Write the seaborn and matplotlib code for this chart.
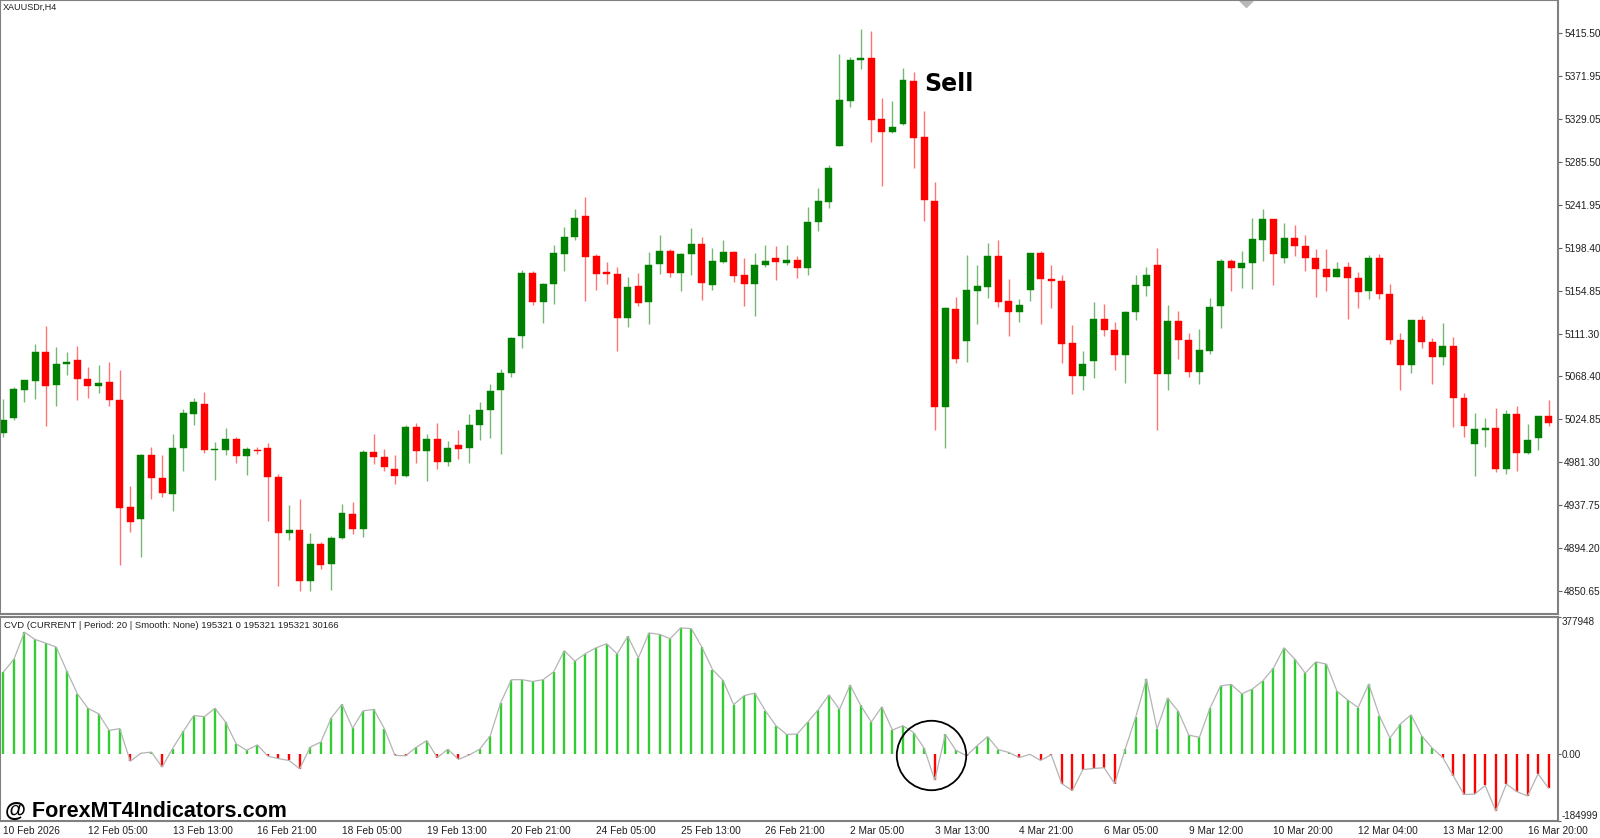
import matplotlib
matplotlib.use('Agg')
import matplotlib.pyplot as plt
import numpy as np
import pandas as pd
import seaborn as sns

# XAUUSD H4 candles
opens = [5011, 5026, 5054, 5063, 5093, 5059, 5081, 5085, 5065, 5058,
         5062, 5044, 4936, 4924, 4988, 4965, 4949, 4995, 5030, 5040,
         4993, 4993, 5005, 4987, 4993, 4995, 4966, 4909, 4912, 4861,
         4898, 4878, 4904, 4929, 4913, 4991, 4986, 4974, 4967, 5017,
         4992, 5005, 4981, 4998, 4995, 5019, 5034, 5054, 5071, 5109,
         5173, 5143, 5162, 5192, 5209, 5230, 5190, 5173, 5172, 5127,
         5160, 5143, 5182, 5195, 5173, 5192, 5202, 5161, 5184, 5194,
         5171, 5162, 5181, 5188, 5183, 5186, 5178, 5224, 5245, 5301,
         5347, 5388, 5390, 5329, 5315, 5324, 5367, 5310, 5246, 5037,
         5136, 5104, 5154, 5159, 5190, 5144, 5133, 5155, 5193, 5167,
         5165, 5102, 5068, 5084, 5126, 5115, 5090, 5133, 5160, 5181,
         5070, 5124, 5105, 5072, 5094, 5139, 5185, 5178, 5183, 5206,
         5227, 5188, 5208, 5200, 5188, 5177, 5169, 5179, 5168, 5154,
         5188, 5151, 5105, 5080, 5125, 5103, 5088, 5099, 5046, 4999,
         5014, 5016, 4974, 5030, 4990, 5006, 5028]
highs = [5045, 5057, 5064, 5101, 5119, 5098, 5093, 5099, 5077, 5080,
         5083, 5074, 4957, 4989, 4996, 4988, 5010, 5035, 5046, 5052,
         5002, 5016, 5007, 4996, 4996, 5000, 4969, 4938, 4944, 4909,
         4900, 4906, 4939, 4941, 4993, 5010, 4994, 4988, 5019, 5021,
         5010, 5021, 5003, 5014, 5030, 5042, 5060, 5075, 5108, 5176,
         5175, 5163, 5201, 5219, 5238, 5250, 5192, 5184, 5179, 5169,
         5173, 5194, 5211, 5197, 5193, 5218, 5209, 5198, 5206, 5195,
         5188, 5193, 5201, 5200, 5201, 5190, 5240, 5259, 5282, 5394,
         5391, 5420, 5418, 5350, 5347, 5380, 5376, 5337, 5265, 5138,
         5148, 5191, 5181, 5203, 5206, 5167, 5146, 5193, 5195, 5181,
         5171, 5120, 5094, 5143, 5141, 5123, 5134, 5171, 5179, 5198,
         5140, 5134, 5112, 5116, 5147, 5187, 5187, 5195, 5228, 5238,
         5227, 5223, 5221, 5211, 5197, 5197, 5184, 5184, 5174, 5191,
         5192, 5162, 5112, 5125, 5129, 5107, 5122, 5108, 5051, 5031,
         5026, 5036, 5034, 5038, 5020, 5028, 5044]
lows = [5007, 5024, 5042, 5045, 5018, 5038, 5069, 5044, 5046, 5051,
        5038, 4877, 4910, 4885, 4944, 4946, 4932, 4972, 5019, 4990,
        4963, 4988, 4980, 4968, 4989, 4921, 4856, 4902, 4851, 4851,
        4873, 4852, 4903, 4908, 4905, 4979, 4972, 4959, 4966, 4980,
        4962, 4974, 4977, 4984, 4980, 5004, 5006, 4989, 5067, 5097,
        5140, 5122, 5141, 5175, 5206, 5144, 5155, 5162, 5094, 5118,
        5139, 5121, 5172, 5169, 5154, 5171, 5145, 5155, 5183, 5164,
        5139, 5129, 5179, 5166, 5181, 5168, 5171, 5215, 5239, 5301,
        5341, 5379, 5305, 5261, 5314, 5323, 5279, 5225, 5014, 4995,
        5082, 5083, 5121, 5147, 5138, 5109, 5123, 5144, 5121, 5137,
        5082, 5050, 5054, 5066, 5109, 5074, 5061, 5125, 5149, 5014,
        5054, 5086, 5067, 5060, 5091, 5117, 5154, 5157, 5156, 5185,
        5161, 5183, 5190, 5175, 5148, 5154, 5169, 5126, 5137, 5146,
        5146, 5101, 5054, 5071, 5097, 5060, 5079, 5017, 5007, 4967,
        4996, 4971, 4969, 4972, 4989, 4993, 5018]
closes = [5024, 5055, 5064, 5093, 5058, 5081, 5083, 5065, 5058, 5061,
          5044, 4935, 4920, 4988, 4965, 4950, 4995, 5031, 5042, 4993,
          4994, 5005, 4987, 4994, 4992, 4966, 4909, 4912, 4861, 4898,
          4877, 4904, 4930, 4913, 4991, 4986, 4976, 4967, 5017, 4992,
          5005, 4981, 4995, 4994, 5019, 5034, 5053, 5071, 5107, 5173,
          5143, 5162, 5193, 5209, 5228, 5189, 5172, 5172, 5127, 5159,
          5142, 5181, 5195, 5173, 5192, 5202, 5163, 5185, 5194, 5170,
          5162, 5181, 5185, 5184, 5186, 5178, 5224, 5246, 5279, 5348,
          5388, 5390, 5328, 5315, 5321, 5368, 5309, 5247, 5037, 5137,
          5086, 5155, 5160, 5190, 5143, 5133, 5140, 5193, 5167, 5165,
          5101, 5068, 5081, 5126, 5115, 5090, 5133, 5161, 5171, 5070,
          5124, 5105, 5072, 5095, 5138, 5185, 5178, 5183, 5207, 5227,
          5192, 5208, 5200, 5188, 5177, 5169, 5177, 5168, 5153, 5188,
          5151, 5105, 5079, 5125, 5103, 5088, 5099, 5046, 5018, 5015,
          5016, 4974, 5030, 4990, 5004, 5028, 5021]

# CVD histogram, thousands
cvd_k = [226, 261, 336, 316, 306, 295, 229, 166, 126, 111,
         65, 70, -20, 2, 5, -36, 15, 62, 106, 103,
         126, 88, 28, 10, 25, -6, -13, -18, -41, 19,
         33, 100, 137, 71, 119, 123, 70, -4, -5, 18,
         37, -10, 13, -15, -3, 13, 50, 142, 205, 205,
         200, 205, 227, 285, 256, 277, 293, 304, 276, 325,
         265, 334, 330, 318, 348, 346, 295, 233, 203, 136,
         161, 168, 119, 78, 54, 55, 88, 122, 163, 123,
         190, 134, 88, 130, 66, 78, 59, 16, -72, 54,
         10, -5, 23, 48, 12, 4, -10, -1, -18, -2,
         -82, -101, -43, -40, -38, -82, 14, 103, 207, 69,
         154, 118, 52, 46, 126, 188, 192, 166, 179, 202,
         237, 293, 262, 223, 254, 248, 173, 149, 128, 193,
         106, 44, 83, 108, 50, 16, -10, -61, -112, -111,
         -87, -157, -83, -104, -116, -55, -95]

price_ticks = [5415.50, 5371.95, 5329.05, 5285.50, 5241.95, 5198.40, 5154.85,
               5111.30, 5068.40, 5024.85, 4981.30, 4937.75, 4894.20, 4850.65]
time_labels = ['10 Feb 2026', '12 Feb 05:00', '13 Feb 13:00', '16 Feb 21:00',
               '18 Feb 05:00', '19 Feb 13:00', '20 Feb 21:00', '24 Feb 05:00',
               '25 Feb 13:00', '26 Feb 21:00', '2 Mar 05:00', '3 Mar 13:00',
               '4 Mar 21:00', '6 Mar 05:00', '9 Mar 12:00', '10 Mar 20:00',
               '12 Mar 04:00', '13 Mar 12:00', '16 Mar 20:00']
cvd_max, cvd_min = 377948, -184999

sns.set_style('white')
plt.rcParams['font.family'] = ['Liberation Sans', 'DejaVu Sans']

W, H = 1600, 838
fig = plt.figure(figsize=(W / 100, H / 100), dpi=100)
ax = fig.add_axes([0, (H - 614) / H, 1558 / W, 614 / H])
ax2 = fig.add_axes([0, (H - 821) / H, 1558 / W, 204 / H])

df = pd.DataFrame({'open': opens, 'high': highs, 'low': lows, 'close': closes})
df['bar'] = np.arange(len(df))
df['cvd'] = np.array(cvd_k) * 1000.0
up = df['close'] >= df['open']
colors = np.where(up, '#008000', '#ff0000')

# candles
ax.vlines(df['bar'], df['low'], df['high'], colors=colors, linewidth=1.0, alpha=0.55)
body_lo = np.minimum(df['open'], df['close'])
body_h = np.maximum((df['close'] - df['open']).abs(), 1.5)
ax.bar(df['bar'], body_h, bottom=body_lo, width=0.66, color=colors,
       edgecolor=colors, linewidth=0.3)

xlim = (-0.31, 146.88)
ax.set_xlim(*xlim)
ax.set_ylim(4827.3, 5449.2)
ax.yaxis.tick_right()
ax.set_yticks(price_ticks)
ax.set_yticklabels(['%.2f' % p for p in price_ticks])
ax.tick_params(axis='y', labelsize=7.3, length=3, width=0.8, color='#606060',
               pad=1.5, labelcolor='#202020', direction='out')
ax.set_xticks([])

ax.text(87.0, 5364, 'Sell', fontsize=17, fontweight='bold', family='DejaVu Sans',
        ha='left', va='center', color='black')
# chart shift marker at the top
ax.plot(117.4, 5449.2, marker='D', ms=7, color='#b8b8b8', clip_on=True)

# CVD panel
cvd_colors = np.where(df['cvd'] >= 0, '#32cd32', '#ff0000')
ax2.vlines(df['bar'], 0, df['cvd'], colors=cvd_colors, linewidth=1.7)
sns.lineplot(x=df['bar'], y=df['cvd'], ax=ax2, color='#b4b4b4', linewidth=0.9)
ax2.set_xlim(*xlim)
ax2.set_ylim(cvd_min, cvd_max)
ax2.set_xlabel('')
ax2.set_ylabel('')
ax2.yaxis.tick_right()
ax2.set_yticks([cvd_min, 0, cvd_max])
ax2.set_yticklabels(['-184999', '0.00', '377948'])
yl = ax2.get_yticklabels()
yl[0].set_va('bottom')
yl[2].set_va('top')
ax2.tick_params(axis='y', labelsize=7.1, length=2, width=0.8, color='#606060',
                pad=0.8, labelcolor='#202020')
ax2.set_xticks(list(range(0, 145, 8)))
ax2.set_xticklabels(time_labels, ha='left')
ax2.tick_params(axis='x', labelsize=7.3, length=3, width=0.8, color='#606060',
                pad=0.5, labelcolor='#202020')

ax2.plot(87.6, -4000, marker='o', ms=50, mfc='none', mec='black', mew=1.3,
         clip_on=False)

for a in (ax, ax2):
    for s in a.spines.values():
        s.set_color('#808080')
        s.set_linewidth(1.5)

fig.text(3 / W, 1 - 7 / H, 'XAUUSDr,H4', fontsize=6.5, va='center', ha='left',
         color='#202020')
fig.text(4 / W, 1 - 626 / H,
         'CVD (CURRENT | Period: 20 | Smooth: None) 195321 0 195321 195321 30166',
         fontsize=6.8, va='center', ha='left', color='#202020')
fig.text(5 / W, 1 - 811 / H, '@ ForexMT4Indicators.com', fontsize=15.5,
         fontweight='bold', va='center', ha='left', color='black')

fig.savefig('out.png', dpi=100, facecolor='white')
